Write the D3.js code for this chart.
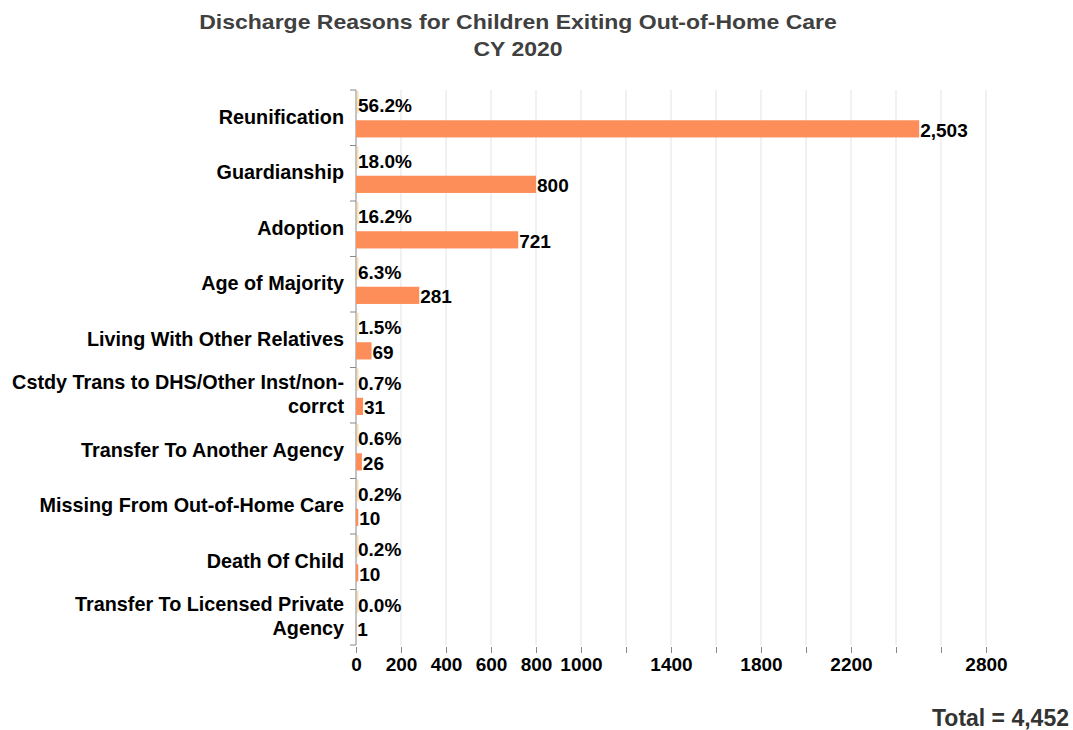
<!DOCTYPE html>
<html>
<head>
<meta charset="utf-8">
<script src="https://cdn.jsdelivr.net/npm/d3@7"></script>
<style>
  body { margin: 0; background: #fff; }
  text { font-family: "Liberation Sans", Arial, sans-serif; font-weight: bold; }
</style>
</head>
<body>
<div class="chart"></div>
<script>
var svgWidth = 1073;
var svgHeight = 730;

var margin = { top: 90, right: 87, bottom: 85, left: 356 };
var width = svgWidth - margin.left - margin.right;
var height = svgHeight - margin.top - margin.bottom;

// chart data
var categories = [
  ["Reunification"],
  ["Guardianship"],
  ["Adoption"],
  ["Age of Majority"],
  ["Living With Other Relatives"],
  ["Cstdy Trans to DHS/Other Inst/non-", "corrct"],
  ["Transfer To Another Agency"],
  ["Missing From Out-of-Home Care"],
  ["Death Of Child"],
  ["Transfer To Licensed Private", "Agency"]
];
var counts = [2503, 800, 721, 281, 69, 31, 26, 10, 10, 1];
var percents = [56.2, 18.0, 16.2, 6.3, 1.5, 0.7, 0.6, 0.2, 0.2, 0.0];
var xTicks = [0, 200, 400, 600, 800, 1000, 1200, 1400, 1600, 1800, 2000, 2200, 2400, 2600, 2800];
var shownTickLabels = [0, 200, 400, 600, 800, 1000, 1400, 1800, 2200, 2800];
var total = 4452;

var rows = categories.map(function(c, i) {
  return { key: i, label: c, count: counts[i], pct: percents[i] };
});

var svg = d3.select(".chart")
  .append("svg")
  .attr("width", svgWidth)
  .attr("height", svgHeight);

// title (glyphs in the original are drawn a bit wide)
svg.append("text")
  .attr("transform", "translate(518, 29) scale(1.15, 1)")
  .attr("text-anchor", "middle")
  .attr("font-size", "20px")
  .attr("fill", "#404040")
  .text("Discharge Reasons for Children Exiting Out-of-Home Care");
svg.append("text")
  .attr("transform", "translate(518, 56) scale(1.15, 1)")
  .attr("text-anchor", "middle")
  .attr("font-size", "20px")
  .attr("fill", "#404040")
  .text("CY 2020");

var chartGroup = svg.append("g")
  .attr("transform", `translate(${margin.left}, ${margin.top})`);

var xScale = d3.scaleLinear().domain([0, 2800]).range([0, width]);
var yScale = d3.scaleBand().domain(rows.map(d => d.key)).range([0, height]);

// gridlines
chartGroup.selectAll(".grid")
  .data(xTicks.slice(1))
  .enter()
  .append("line")
  .attr("x1", d => xScale(d)).attr("x2", d => xScale(d))
  .attr("y1", 0).attr("y2", height)
  .attr("stroke", "#e3e3e3")
  .attr("stroke-width", 1);

// x axis (ticks only)
var bottomAxis = d3.axisBottom(xScale)
  .tickValues(xTicks)
  .tickSize(6)
  .tickPadding(5)
  .tickFormat(d => shownTickLabels.indexOf(d) >= 0 ? d : "");

var xAxis = chartGroup.append("g")
  .attr("transform", `translate(0, ${height + 2})`)
  .call(bottomAxis);
xAxis.select(".domain").remove();
xAxis.selectAll("line").attr("stroke", "#888");
xAxis.selectAll("text")
  .attr("font-size", "19px")
  .attr("fill", "#000")
  .attr("font-family", "'Liberation Sans', Arial, sans-serif")
  .attr("font-weight", "bold");

// y axis line and boundary ticks
chartGroup.append("line")
  .attr("x1", 0).attr("x2", 0)
  .attr("y1", 0).attr("y2", height)
  .attr("stroke", "#888");
chartGroup.selectAll(".ytick")
  .data(d3.range(rows.length + 1))
  .enter()
  .append("line")
  .attr("x1", -6).attr("x2", 0)
  .attr("y1", d => d * yScale.step()).attr("y2", d => d * yScale.step())
  .attr("stroke", "#888");

var bw = yScale.bandwidth();

// percent bars (share of total, drawn on fraction scale)
chartGroup.selectAll(".pctbar")
  .data(rows)
  .enter()
  .append("rect")
  .attr("x", 1)
  .attr("y", d => yScale(d.key) + 1)
  .attr("width", d => Math.max(1.5, xScale(d.pct / 100)))
  .attr("height", bw * 0.4)
  .attr("fill", "#ffe0a6");

// count bars
chartGroup.selectAll(".bar")
  .data(rows)
  .enter()
  .append("rect")
  .attr("x", 0)
  .attr("y", d => yScale(d.key) + bw * 0.545)
  .attr("width", d => xScale(d.count))
  .attr("height", bw * 0.31)
  .attr("fill", "#fd8e5a");

// percent labels
chartGroup.selectAll(".pctlabel")
  .data(rows)
  .enter()
  .append("text")
  .attr("x", 2)
  .attr("y", d => yScale(d.key) + 22)
  .attr("font-size", "19px")
  .attr("fill", "#000")
  .text(d => d.pct.toFixed(1) + "%");

// count labels
chartGroup.selectAll(".countlabel")
  .data(rows)
  .enter()
  .append("text")
  .attr("x", d => xScale(d.count) + 1)
  .attr("y", d => yScale(d.key) + 46.5)
  .attr("font-size", "19px")
  .attr("fill", "#000")
  .text(d => d3.format(",")(d.count));

// category labels
var catLabels = chartGroup.selectAll(".catlabel")
  .data(rows)
  .enter()
  .append("text")
  .attr("text-anchor", "end")
  .attr("font-size", "19.8px")
  .attr("fill", "#000")
  .attr("transform", d => `translate(-12, ${yScale(d.key) + bw / 2})`);

catLabels.each(function(d) {
  var t = d3.select(this);
  var n = d.label.length;
  d.label.forEach(function(line, j) {
    t.append("tspan")
      .attr("x", 0)
      .attr("y", (j - (n - 1) / 2) * 24 + 6)
      .text(line);
  });
});

// total
svg.append("text")
  .attr("x", 1069).attr("y", 726)
  .attr("text-anchor", "end")
  .attr("font-size", "23px")
  .attr("fill", "#333")
  .text("Total = " + d3.format(",")(total));
</script>
</body>
</html>
